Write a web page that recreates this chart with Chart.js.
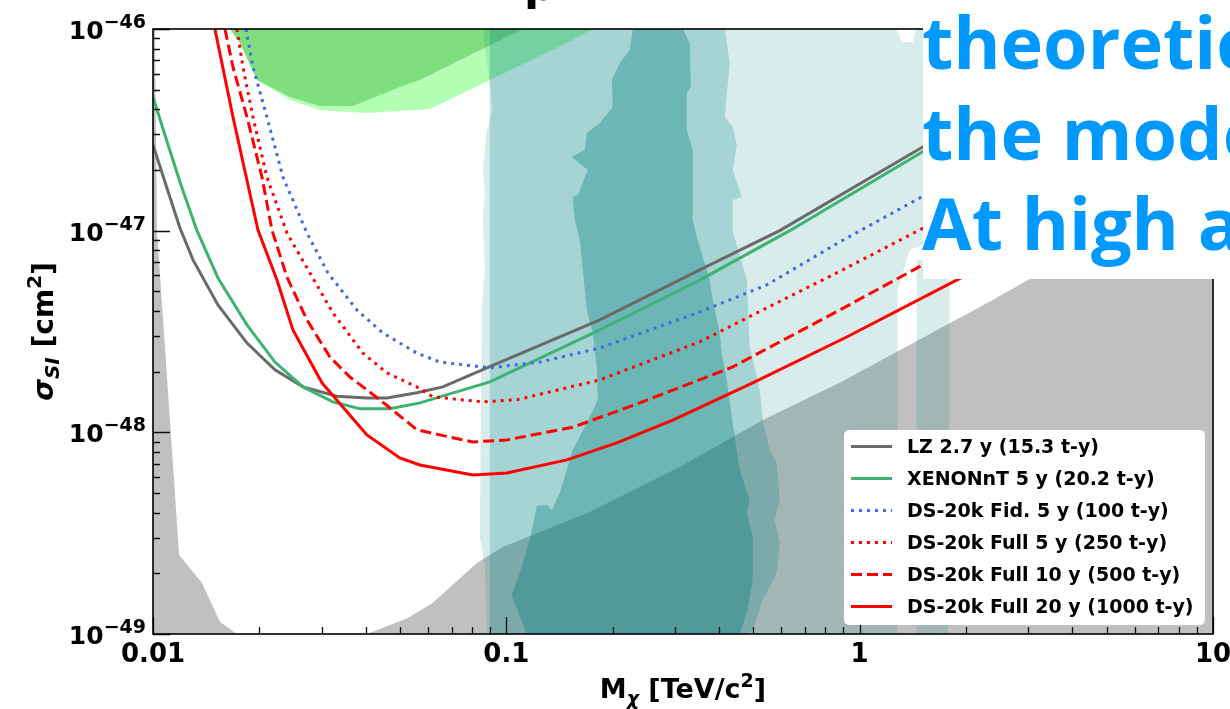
<!DOCTYPE html>
<html>
<head>
<meta charset="utf-8">
<script src="https://cdn.jsdelivr.net/npm/chart.js@4.4.1/dist/chart.umd.min.js"></script>
<style>
  html, body { margin: 0; padding: 0; background: #fff; }
  #wrap { width: 1230px; height: 709px; }
</style>
</head>
<body>
<div id="wrap"><canvas id="chart" width="1230" height="709"></canvas></div>
<script>
(function () {
  'use strict';

  // ============================================
  // DATA  (mass in TeV/c^2, cross section in cm^2)
  // ============================================
  var lzMass = [0.01, 0.01095, 0.01192, 0.01298, 0.01527, 0.01845, 0.02214, 0.02657, 0.03315, 0.04031, 0.04592, 0.05582, 0.06612, 0.08807, 0.1839, 0.3527, 0.5938, 1.508, 10];
  var lzSigma = [2.66e-47, 1.628e-47, 1.031e-47, 7.16e-48, 4.28e-48, 2.77e-48, 2.04e-48, 1.68e-48, 1.51e-48, 1.48e-48, 1.48e-48, 1.57e-48, 1.68e-48, 2.09e-48, 3.61e-48, 6.39e-48, 1.0e-47, 2.60e-47, 1.42e-46];

  var xenonMass = [0.01, 0.01081, 0.01192, 0.01332, 0.01527, 0.01845, 0.02214, 0.02657, 0.03230, 0.03852, 0.04683, 0.05692, 0.06484, 0.08981, 0.1839, 0.3527, 0.6340, 1.508, 10];
  var xenonSigma = [4.60e-47, 2.98e-47, 1.744e-47, 1.0e-47, 5.83e-48, 3.41e-48, 2.23e-48, 1.68e-48, 1.415e-48, 1.31e-48, 1.31e-48, 1.40e-48, 1.50e-48, 1.78e-48, 3.22e-48, 5.69e-48, 1.0e-47, 2.46e-47, 1.345e-46];

  var fidMass = [0.01833, 0.01918, 0.02101, 0.02332, 0.02727, 0.03126, 0.03777, 0.04474, 0.05582, 0.06484, 0.08981, 0.1244, 0.1839, 0.3527, 0.5457, 0.878, 1.478, 10];
  var fidSigma = [1e-46, 6.48e-47, 3.66e-47, 1.845e-47, 9.74e-48, 6.17e-48, 4.04e-48, 3.11e-48, 2.47e-48, 2.23e-48, 2.09e-48, 2.23e-48, 2.62e-48, 3.95e-48, 5.38e-48, 8.79e-48, 1.452e-47, 9.12e-47];

  var full5Mass = [0.01728, 0.01797, 0.01918, 0.02101, 0.02394, 0.02781, 0.03230, 0.03928, 0.04592, 0.05582, 0.06194, 0.0858, 0.1071, 0.1839, 0.3527, 0.5457, 0.8606, 1.478, 10];
  var full5Sigma = [1e-46, 6.48e-47, 3.66e-47, 1.845e-47, 9.74e-48, 6.17e-48, 3.91e-48, 2.47e-48, 1.97e-48, 1.68e-48, 1.50e-48, 1.415e-48, 1.45e-48, 1.82e-48, 2.81e-48, 4.14e-48, 6.17e-48, 1.008e-47, 5.71e-47];

  var full10Mass = [0.01598, 0.01684, 0.01845, 0.02034, 0.02171, 0.02394, 0.02727, 0.03168, 0.03609, 0.04387, 0.05582, 0.06484, 0.08039, 0.1003, 0.1542, 0.2387, 0.4373, 0.878, 1.508, 10];
  var full10Sigma = [1e-46, 6.48e-47, 3.66e-47, 1.845e-47, 1.008e-47, 5.89e-48, 3.61e-48, 2.36e-48, 1.88e-48, 1.45e-48, 1.03e-48, 9.71e-49, 8.96e-49, 9.17e-49, 1.06e-48, 1.40e-48, 2.11e-48, 4.04e-48, 6.76e-48, 4.06e-47];

  var full20Mass = [0.01497, 0.01684, 0.01982, 0.02243, 0.02489, 0.03007, 0.04031, 0.04996, 0.05692, 0.08039, 0.1003, 0.1483, 0.2054, 0.2958, 0.4982, 0.9189, 1.881, 10];
  var full20Sigma = [1e-46, 3.66e-47, 1.008e-47, 5.69e-48, 3.22e-48, 1.76e-48, 9.71e-49, 7.46e-49, 6.89e-49, 6.15e-49, 6.29e-49, 7.30e-49, 8.86e-49, 1.15e-48, 1.76e-48, 2.97e-48, 5.69e-48, 2.60e-47];

  // shaded regions (closed outlines)
  var fogLeftMass = [0.01, 0.01013, 0.01026, 0.01132, 0.01185, 0.01376, 0.01547, 0.01728, 0.01];
  var fogLeftSigma = [1e-46, 1e-46, 1.0e-47, 8.18e-49, 2.47e-49, 1.79e-49, 1.15e-49, 1e-49, 1e-49];

  var fogRightMass = [0.04031, 0.05264, 0.06194, 0.08251, 0.09775, 0.1722, 0.3096, 0.5317, 0.878, 2.378, 3.027, 10, 10];
  var fogRightSigma = [1e-49, 1.20e-49, 1.43e-49, 2.25e-49, 2.70e-49, 4.03e-49, 6.74e-49, 1.15e-48, 1.76e-48, 4.53e-48, 5.76e-48, 1.89e-47, 1e-49];

  var greenDarkMass = [0.01651, 0.01763, 0.01969, 0.02441, 0.02968, 0.0368, 0.04996, 0.05692, 0.1114];
  var greenDarkSigma = [1e-46, 8.52e-47, 5.59e-47, 4.60e-47, 4.15e-47, 4.15e-47, 5.16e-47, 5.59e-47, 1e-46];

  var greenLightMass = [0.01651, 0.01763, 0.01969, 0.02441, 0.02968, 0.04031, 0.06074, 0.1483, 0.1756];
  var greenLightSigma = [1e-46, 8.52e-47, 5.59e-47, 4.45e-47, 3.97e-47, 3.83e-47, 4.01e-47, 8.52e-47, 1e-46];

  var tealOuterMass = [0.0858, 0.09158, 0.08807, 0.0858, 0.08694, 0.0858, 0.08694, 0.08525, 0.08414, 0.08694, 0.08807, 1.281, 1.281, 1.385, 1.508, 2.489, 2.489, 1.450, 1.412, 1.315, 1.272];
  var tealOuterSigma = [1e-46, 3.97e-47, 3.16e-47, 2.00e-47, 1.54e-47, 1.17e-47, 6.39e-48, 4.18e-48, 3.03e-49, 2.15e-49, 1e-49, 1e-49, 5.08e-48, 8.02e-48, 8.49e-48, 8.99e-48, 1e-46, 1e-46, 8.62e-47, 8.62e-47, 1e-46];

  var tealSliverMass = [1.450, 1.797, 1.797, 1.774, 1.450];
  var tealSliverSigma = [7.16e-48, 7.16e-48, 1.45e-48, 1e-49, 1e-49];

  var tealMidMass = [0.08981, 0.08981, 0.4151, 0.4288, 0.4151, 0.4373, 0.4488, 0.4373, 0.4637, 0.4373, 0.4373, 0.4488, 0.4790, 0.4884, 0.5214, 0.5317, 0.5564, 0.5824, 0.5939, 0.5748, 0.5939, 0.5824, 0.5317, 0.4982, 0.4821];
  var tealMidSigma = [1e-49, 1e-46, 1e-46, 6.78e-47, 3.66e-47, 3.27e-47, 2.66e-47, 2.00e-47, 1.47e-47, 1.42e-47, 9.85e-48, 8.49e-48, 5.69e-48, 2.65e-48, 1.62e-48, 1.15e-48, 8.18e-49, 7.05e-49, 4.62e-49, 3.68e-49, 2.83e-49, 2.01e-49, 1.48e-49, 1.05e-49, 1e-49];

  var tealInnerMass = [0.2280, 0.2236, 0.2095, 0.1988, 0.2001, 0.1839, 0.1689, 0.1668, 0.1532, 0.1700, 0.1593, 0.1542, 0.1562, 0.1614, 0.1646, 0.1689, 0.1756, 0.1803, 0.1815, 0.1722, 0.1542, 0.1417, 0.1345, 0.1302, 0.1220, 0.1166, 0.1092, 0.1036, 0.1092, 0.1143,
    0.4576, 0.4790, 0.4982, 0.4982, 0.4790, 0.4884, 0.4576, 0.4373, 0.4205, 0.4070, 0.4018, 0.3839, 0.3765, 0.3480, 0.3369, 0.3369, 0.3240, 0.3240, 0.3326, 0.3304, 0.3157];
  var tealInnerSigma = [1e-46, 7.87e-47, 6.78e-47, 5.59e-47, 4.11e-47, 3.42e-47, 3.05e-47, 2.51e-47, 2.32e-47, 2.00e-47, 1.50e-47, 1.47e-47, 1.13e-47, 8.99e-48, 6.39e-48, 4.04e-48, 3.11e-48, 2.11e-48, 1.45e-48, 1.19e-48, 8.18e-49, 5.01e-49, 4.12e-49, 4.37e-49, 4.32e-49, 2.93e-49, 2.01e-49, 1.56e-49, 1.22e-49, 1e-49,
    1e-49, 1.27e-49, 1.85e-49, 3.03e-49, 3.99e-49, 4.62e-49, 6.51e-49, 1.11e-48, 1.82e-48, 2.47e-48, 3.11e-48, 4.53e-48, 5.69e-48, 8.99e-48, 1.13e-47, 2.51e-47, 3.16e-47, 4.82e-47, 5.16e-47, 8.52e-47, 1e-46];

  // tick labels
  var xTickValues = [0.01, 0.1, 1, 10];
  var xTickLabels = ['0.01', '0.1', '1', '10'];
  var yTickValues = [1e-49, 1e-48, 1e-47, 1e-46];
  var yTickExps = ['\u221249', '\u221248', '\u221247', '\u221246'];

  var overlayLines = ['theoretic', 'the mode', 'At high a'];
  var titleFragment = 'p';

  // ============================================
  // HELPERS
  // ============================================
  function pts(xs, ys) {
    return xs.map(function (x, i) { return { x: x, y: ys[i] }; });
  }

  function curve(label, xs, ys, color, dash) {
    return {
      label: label,
      data: pts(xs, ys),
      showLine: true,
      borderColor: color,
      backgroundColor: color,
      borderWidth: 3,
      borderDash: dash,
      borderCapStyle: 'butt',
      pointRadius: 0,
      fill: false,
      tension: 0,
      order: 0
    };
  }

  function region(xs, ys, color, order) {
    return {
      label: '',
      data: pts(xs, ys),
      showLine: true,
      borderColor: 'rgba(0,0,0,0)',
      borderWidth: 0,
      backgroundColor: color,
      fill: 'shape',
      pointRadius: 0,
      tension: 0,
      order: order
    };
  }

  var TEAL1 = 'rgba(0,128,128,0.153)';
  var TEAL2 = 'rgba(0,128,128,0.236)';
  var TEAL3 = 'rgba(0,128,128,0.351)';

  var datasets = [
    curve('DS-20k Full 20 y (1000 t-y)', full20Mass, full20Sigma, '#ff0000', []),
    curve('DS-20k Full 10 y (500 t-y)', full10Mass, full10Sigma, '#ff0000', [11, 5]),
    curve('DS-20k Full 5 y (250 t-y)', full5Mass, full5Sigma, '#ff0000', [3, 5]),
    curve('DS-20k Fid. 5 y (100 t-y)', fidMass, fidSigma, '#4169e1', [3, 5]),
    curve('XENONnT 5 y (20.2 t-y)', xenonMass, xenonSigma, '#3cb371', []),
    curve('LZ 2.7 y (15.3 t-y)', lzMass, lzSigma, '#6a6a6a', []),
    region(tealInnerMass, tealInnerSigma, TEAL3, 2),
    region(tealMidMass, tealMidSigma, TEAL2, 3),
    region(tealOuterMass, tealOuterSigma, TEAL1, 4),
    region(tealSliverMass, tealSliverSigma, TEAL1, 4),
    region(fogLeftMass, fogLeftSigma, '#c0c0c0', 5),
    region(fogRightMass, fogRightSigma, '#c0c0c0', 5),
    region(greenDarkMass, greenDarkSigma, '#7fdf7f', 6),
    region(greenLightMass, greenLightSigma, '#b3ffb3', 7)
  ];

  // legend order as in the figure
  var legendOrder = [5, 4, 3, 2, 1, 0];

  function drawParts(ctx, parts, x, y) {
    var cx = x;
    parts.forEach(function (p) {
      ctx.font = p.font;
      ctx.fillText(p.t, cx, y + (p.dy || 0));
      cx += ctx.measureText(p.t).width;
    });
    return cx - x;
  }
  function partsWidth(ctx, parts) {
    var w = 0;
    parts.forEach(function (p) { ctx.font = p.font; w += ctx.measureText(p.t).width; });
    return w;
  }

  var BOLD = '"DejaVu Sans", sans-serif';

  // ============================================
  // AXES: spines, inward ticks, labels, legend, overlay
  // ============================================
  var axesPlugin = {
    id: 'axesPlugin',
    afterDatasetsDraw: function (chart) {
      var ctx = chart.ctx, a = chart.chartArea;
      var xs = chart.scales.x, ys = chart.scales.y;
      ctx.save();
      ctx.strokeStyle = '#111';
      ctx.lineWidth = 1.3;
      ctx.beginPath();
      [0.01, 0.1, 1].forEach(function (d) {
        for (var k = 2; k <= 9; k++) {
          var px = Math.round(xs.getPixelForValue(d * k)) + 0.5;
          ctx.moveTo(px, a.bottom); ctx.lineTo(px, a.bottom - 7);
        }
      });
      xTickValues.forEach(function (v) {
        var px = Math.round(xs.getPixelForValue(v)) + 0.5;
        ctx.moveTo(px, a.bottom); ctx.lineTo(px, a.bottom - 17);
      });
      [1e-49, 1e-48, 1e-47].forEach(function (d) {
        for (var k = 2; k <= 9; k++) {
          var py = Math.round(ys.getPixelForValue(d * k)) + 0.5;
          ctx.moveTo(a.left, py); ctx.lineTo(a.left + 7, py);
        }
      });
      yTickValues.forEach(function (v) {
        var py = Math.round(ys.getPixelForValue(v)) + 0.5;
        ctx.moveTo(a.left, py); ctx.lineTo(a.left + 17, py);
      });
      ctx.stroke();

      ctx.strokeStyle = '#000';
      ctx.lineWidth = 1.6;
      ctx.strokeRect(a.left, a.top, a.right - a.left, a.bottom - a.top);
      ctx.restore();
    },

    afterDraw: function (chart) {
      var ctx = chart.ctx, a = chart.chartArea;
      var xs = chart.scales.x, ys = chart.scales.y;
      ctx.save();
      ctx.fillStyle = '#000';
      ctx.textBaseline = 'alphabetic';

      // y tick labels 10^-n
      yTickValues.forEach(function (v, i) {
        var py = ys.getPixelForValue(v);
        var parts = [
          { t: '10', font: 'bold 25px ' + BOLD, dy: 10 },
          { t: yTickExps[i], font: 'bold 19px ' + BOLD, dy: -1 }
        ];
        var w = partsWidth(ctx, parts);
        drawParts(ctx, parts, a.left - 7 - w, py);
      });

      // x tick labels
      ctx.textAlign = 'center';
      ctx.font = 'bold 26px ' + BOLD;
      xTickValues.forEach(function (v, i) {
        ctx.fillText(xTickLabels[i], xs.getPixelForValue(v), 662);
      });
      ctx.textAlign = 'left';

      // x title
      var xt = [
        { t: 'M', font: 'bold 27px ' + BOLD },
        { t: '\u03c7', font: 'bold italic 19px ' + BOLD, dy: 7 },
        { t: ' [TeV/c', font: 'bold 27px ' + BOLD },
        { t: '2', font: 'bold 19px ' + BOLD, dy: -11 },
        { t: ']', font: 'bold 27px ' + BOLD }
      ];
      var xw = partsWidth(ctx, xt);
      drawParts(ctx, xt, (a.left + a.right) / 2 - xw / 2, 698);

      // y title
      var yt = [
        { t: '\u03c3', font: 'bold italic 28px ' + BOLD },
        { t: 'SI', font: 'bold italic 20px ' + BOLD, dy: 6 },
        { t: ' [cm', font: 'bold 28px ' + BOLD },
        { t: '2', font: 'bold 20px ' + BOLD, dy: -12 },
        { t: ']', font: 'bold 28px ' + BOLD }
      ];
      var yw = partsWidth(ctx, yt);
      ctx.save();
      ctx.translate(53, (a.top + a.bottom) / 2);
      ctx.rotate(-Math.PI / 2);
      drawParts(ctx, yt, -yw / 2, 0);
      ctx.restore();

      // legend box
      ctx.fillStyle = '#ffffff';
      ctx.beginPath();
      if (ctx.roundRect) ctx.roundRect(844, 430, 361, 195, 5); else ctx.rect(844, 430, 361, 195);
      ctx.fill();
      ctx.font = 'bold 19px ' + BOLD;
      legendOrder.forEach(function (di, row) {
        var ds = chart.data.datasets[di];
        var cy = 446 + row * 32;
        ctx.save();
        ctx.strokeStyle = ds.borderColor;
        ctx.lineWidth = 3;
        ctx.setLineDash(ds.borderDash || []);
        ctx.beginPath();
        ctx.moveTo(851, cy + 0.5); ctx.lineTo(892, cy + 0.5);
        ctx.stroke();
        ctx.restore();
        ctx.fillStyle = '#000';
        ctx.fillText(ds.label, 907, cy + 7);
      });

      // white text panel in the top right
      ctx.fillStyle = '#ffffff';
      ctx.fillRect(923, 0, 307, 279);
      ctx.fillStyle = '#0099ff';
      ctx.font = 'bold 72px "Open Sans", sans-serif';
      ctx.fillText(overlayLines[0], 922, 69);
      ctx.fillText(overlayLines[1], 922, 160);
      ctx.fillText(overlayLines[2], 922, 250);

      // clipped title fragment at the very top
      ctx.fillStyle = '#000';
      ctx.font = 'bold 44px ' + BOLD;
      ctx.fillText(titleFragment, 524, 0);
      ctx.restore();
    }
  };

  new Chart(document.getElementById('chart'), {
    type: 'scatter',
    data: { datasets: datasets },
    options: {
      responsive: false,
      devicePixelRatio: 1,
      animation: false,
      layout: { padding: { left: 153, right: 17, top: 29, bottom: 75 } },
      plugins: { legend: { display: false }, tooltip: { enabled: false } },
      events: [],
      scales: {
        x: { type: 'logarithmic', min: 0.01, max: 10, display: false },
        y: { type: 'logarithmic', min: 1e-49, max: 1e-46, display: false }
      }
    },
    plugins: [axesPlugin]
  });
})();
</script>
</body>
</html>
